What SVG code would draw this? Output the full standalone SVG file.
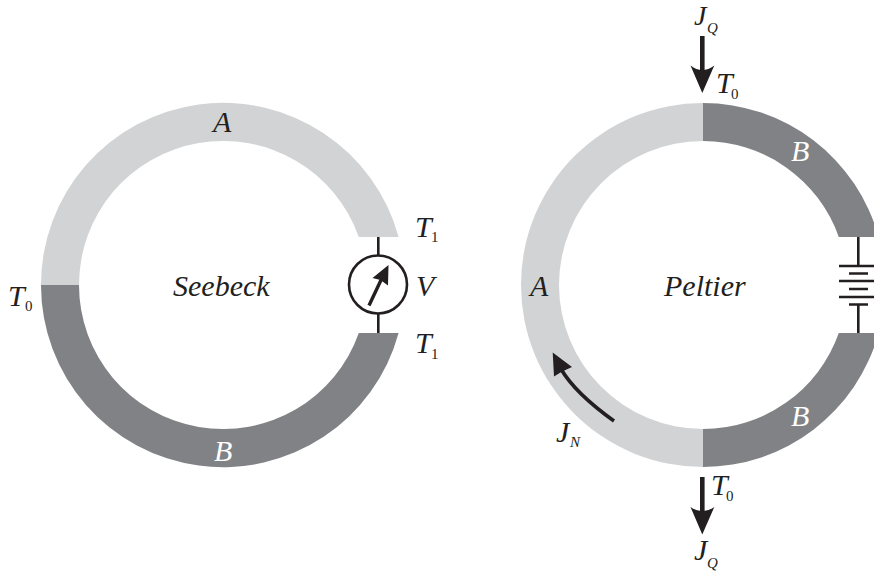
<svg xmlns="http://www.w3.org/2000/svg" width="874" height="574" viewBox="0 0 874 574">
<style>
.a{fill:#d1d3d4}.b{fill:#808285}
.w{stroke:#231f20;fill:none;stroke-width:2.6}
.k{fill:#231f20}
text{font-family:"Liberation Serif","Times New Roman",serif;fill:#231f20}
.i{font-style:italic;font-size:30px}
.s{font-size:15px}.si{font-size:15px;font-style:italic}
</style>
<g id="seebeck-ring">
<path id="seebeck-a" class="a" d="M41 285A182 182 0 0 1 398.600 237H358.800A144 144 0 0 0 79 285Z"/>
<path id="seebeck-b" class="b" d="M41 285A182 182 0 0 0 398.600 333H358.800A144 144 0 0 1 79 285Z"/>
</g>
<g id="peltier-ring">
<path id="peltier-a" class="a" d="M703 103A182 182 0 0 0 703 467V429A144 144 0 0 1 703 141Z"/>
<path id="peltier-b1" class="b" d="M703 103A182 182 0 0 1 878.600 237H838.800A144 144 0 0 0 703 141Z"/>
<path id="peltier-b2" class="b" d="M703 467A182 182 0 0 0 878.600 333H838.800A144 144 0 0 1 703 429Z"/>
</g>
<g id="connectors">
<path class="w" d="M378.300 237V256M378.300 314V333"/>
<path class="w" d="M858.300 237V266M858.300 304V333"/>
<path class="w" d="M839 266H874M849 273.500H868M839 281H874M849 289H868M839 297H874M849 304.500H868"/>
<path class="w" style="stroke-width:3.400" d="M369 305.500L381.500 279"/>
<path class="k" d="M388.500 265L388 285.500L380.500 280L372.500 278Z"/>
<path class="w" style="stroke-width:4.600" d="M702.300 36V72"/>
<path class="k" d="M702.300 93L690.500 65.500Q702.300 74.500 714.300 65.500Z"/>
<path class="w" style="stroke-width:4.600" d="M702.300 477V513"/>
<path class="k" d="M702.300 534.500L690.500 507Q702.300 515.500 714.300 507Z"/>
<path class="w" style="stroke-width:3.600" d="M614 421Q575 393 561 369"/>
<path class="k" d="M552.700 352.500L572 367L561.700 371.700L554 376.500Z"/>
</g>
<g id="meter"><circle class="w" cx="378" cy="284.500" r="29"/></g>
<g id="seebeck-labels">
<text class="i" x="213" y="132">A</text>
<text class="i" style="fill:#fff" x="214" y="461">B</text>
<text class="i" x="173" y="296">Seebeck</text>
<text class="i" x="8" y="306">T</text><text class="s" x="25" y="311">0</text>
<text class="i" x="415" y="237">T</text><text class="s" x="431" y="242">1</text>
<text class="i" x="415" y="353">T</text><text class="s" x="431" y="359">1</text>
<text class="i" x="416" y="296">V</text>
</g>
<g id="peltier-labels">
<text class="i" x="530" y="296">A</text>
<text class="i" style="fill:#fff" x="791" y="161">B</text>
<text class="i" style="fill:#fff" x="791" y="426">B</text>
<text class="i" x="664" y="296">Peltier</text>
<text class="i" style="font-size:28px" x="694" y="25">J</text><text class="si" x="707" y="33">Q</text>
<text class="i" x="716" y="93">T</text><text class="s" x="731" y="99">0</text>
<text class="i" x="711" y="495">T</text><text class="s" x="726" y="501">0</text>
<text class="i" x="694" y="560">J</text><text class="si" x="707" y="568">Q</text>
<text class="i" x="556" y="442">J</text><text class="si" x="570" y="447">N</text>
</g>
</svg>
